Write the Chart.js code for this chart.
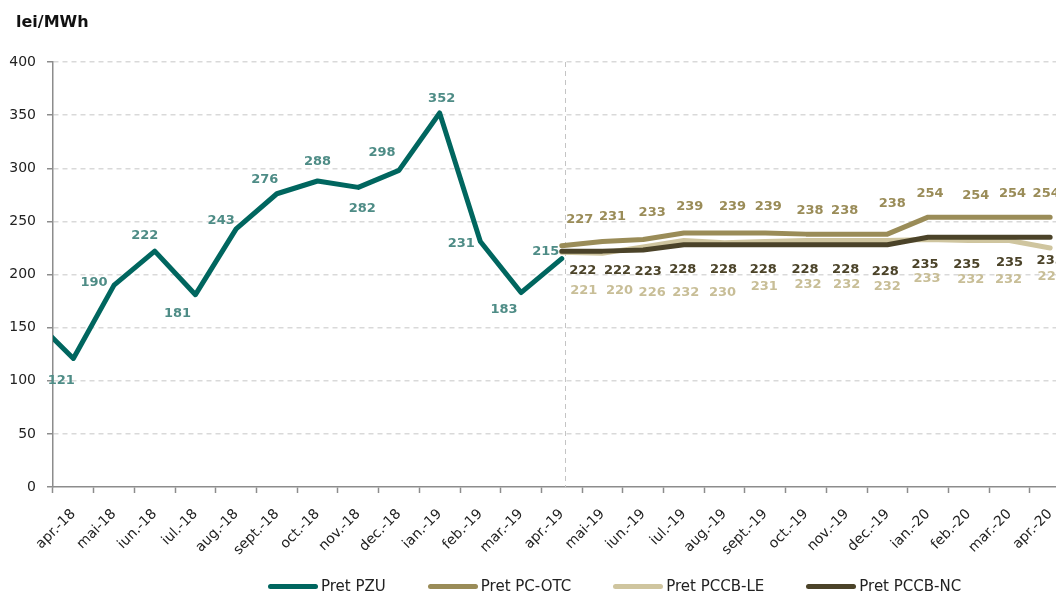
<!DOCTYPE html>
<html>
<head>
<meta charset="utf-8">
<script src="https://cdn.jsdelivr.net/npm/chart.js@4.4.1/dist/chart.umd.min.js"></script>
<style>
  html, body { margin: 0; padding: 0; background: #fff; overflow: hidden; width: 1056px; height: 596px; }
  #wrap { position: absolute; left: 0; top: 0; width: 1085px; height: 596px; }
  #legend { position: absolute; left: 268px; top: 577px; height: 18px; display: flex; align-items: center;
            font-family: 'DejaVu Sans', sans-serif; font-size: 15px; color: #222; white-space: nowrap; }
  #legend .item { display: flex; align-items: center; margin-right: 42px; }
  #legend .sw { display: inline-block; width: 50px; height: 5px; border-radius: 3px; margin-right: 3px; }
</style>
</head>
<body>
<div id="wrap"><canvas id="c" width="1085" height="596"></canvas></div>
<div id="legend"></div>
<script>
// ---- data ----
const months = ['apr.-18','mai-18','iun.-18','iul.-18','aug.-18','sept.-18','oct.-18','nov.-18','dec.-18',
  'ian.-19','feb.-19','mar.-19','apr.-19','mai-19','iun.-19','iul.-19','aug.-19','sept.-19','oct.-19',
  'nov.-19','dec.-19','ian.-20','feb.-20','mar.-20','apr.-20'];
const pzuLead = 159; // mar.-18 value, only the segment entering the plot is visible
const pzu   = [121, 190, 222, 181, 243, 276, 288, 282, 298, 352, 231, 183, 215]; // apr.-18 .. apr.-19
const pcOtc = [227, 231, 233, 239, 239, 239, 238, 238, 238, 254, 254, 254, 254];  // apr.-19 .. apr.-20
const pccbLe = [221, 220, 226, 232, 230, 231, 232, 232, 232, 233, 232, 232, 225];
const pccbNc = [222, 222, 223, 228, 228, 228, 228, 228, 228, 235, 235, 235, 235];
const seriesNames = ['Pret PZU', 'Pret PC-OTC', 'Pret PCCB-LE', 'Pret PCCB-NC'];
const yTicks = [0, 50, 100, 150, 200, 250, 300, 350, 400];
const forecastStart = months.indexOf('apr.-19');

// ---- styling ----
const colors = ['#00665f', '#9a8c58', '#cfc59f', '#4b4329'];
const labelColors = ['#4e8c86', '#9a8c58', '#c8be97', '#4b4329'];
// label placement relative to each point (pixels)
const labelOffsets = [
  [[-12,22],[-20,-3],[-10,-16],[-18,19],[-15,-8],[-12,-14],[0,-19],[4,21],[-17,-18],[2,-14],[-19,2],[-17,17],[-16,-7]],
  [[18,-26],[10,-25],[9,-27],[6,-26],[8,-26],[3,-26],[4,-24],[-2,-24],[5,-31],[2,-24],[7,-22],[3,-24],[-4,-24]],
  [[22,38],[17,37],[9,46],[2,52],[-2,50],[-1,45],[2,44],[0,44],[0,46],[-1,39],[2,39],[-1,39],[1,29]],
  [[21,19],[15,19],[5,22],[-1,25],[-1,25],[-2,25],[-1,25],[-1,25],[-2,27],[-3,27],[-2,27],[0,25],[0,23]]
];

const FONT = "'DejaVu Sans', sans-serif";

const pzuData = [{x: -1, y: pzuLead}].concat(pzu.map((v, i) => ({x: i, y: v})));
const fc = arr => arr.map((v, i) => ({x: forecastStart + i, y: v}));

const valueLabels = {
  id: 'valueLabels',
  afterDatasetsDraw(chart) {
    const ctx = chart.ctx;
    chart.data.datasets.forEach((ds, di) => {
      const meta = chart.getDatasetMeta(di);
      const offs = labelOffsets[di];
      const skip = ds.data.length - offs.length;
      ctx.save();
      ctx.font = 'bold 13px ' + FONT;
      ctx.fillStyle = labelColors[di];
      ctx.textAlign = 'center';
      ctx.textBaseline = 'middle';
      meta.data.forEach((pt, i) => {
        if (i < skip) return;
        const o = offs[i - skip];
        ctx.fillText(String(ds.data[i].y), pt.x + o[0], pt.y + o[1]);
      });
      ctx.restore();
    });
  }
};

const divider = {
  id: 'divider',
  beforeDatasetsDraw(chart) {
    const {ctx, chartArea, scales} = chart;
    const x = Math.round(scales.x.getPixelForValue(forecastStart + 0.08)) + 0.5;
    ctx.save();
    ctx.strokeStyle = '#c4c4c4';
    ctx.lineWidth = 1;
    ctx.setLineDash([5, 4]);
    ctx.beginPath();
    ctx.moveTo(x, chartArea.top);
    ctx.lineTo(x, chartArea.bottom);
    ctx.stroke();
    ctx.restore();
  }
};

const unitTitle = {
  id: 'unitTitle',
  afterDraw(chart) {
    const ctx = chart.ctx;
    ctx.save();
    ctx.font = 'bold 16px ' + FONT;
    ctx.fillStyle = '#111';
    ctx.textAlign = 'left';
    ctx.textBaseline = 'alphabetic';
    ctx.fillText('lei/MWh', 16, 27);
    ctx.restore();
  }
};

const mk = (i, data, order) => ({
  label: seriesNames[i], data, borderColor: colors[i], backgroundColor: colors[i],
  borderWidth: 5, pointRadius: 0, tension: 0, order,
  borderJoinStyle: 'round', borderCapStyle: 'round',
  clip: {left: 0, top: false, right: false, bottom: false}
});

new Chart(document.getElementById('c'), {
  type: 'line',
  data: {
    datasets: [
      mk(0, pzuData, 3),
      mk(1, fc(pcOtc), 2),
      mk(2, fc(pccbLe), 1),
      mk(3, fc(pccbNc), 0)
    ]
  },
  options: {
    responsive: false,
    animation: false,
    devicePixelRatio: 1,
    layout: { padding: { top: 62, right: 14.5, bottom: 0, left: 0 } },
    plugins: { legend: { display: false }, tooltip: { enabled: false }, title: { display: false } },
    scales: {
      x: {
        type: 'linear', min: -0.5, max: months.length - 0.5,
        afterBuildTicks: s => { s.ticks = months.map((_, i) => ({value: i})); },
        afterFit: s => { s.height = 109; },
        grid: { drawOnChartArea: false, drawTicks: true, tickLength: 6, offset: true,
                color: '#8c8c8c', tickColor: '#8c8c8c', tickWidth: 1.5, tickBorderDash: [] },
        border: { display: true, color: '#8c8c8c', width: 1.5 },
        ticks: { autoSkip: false, maxRotation: 45, minRotation: 45, padding: 13,
                 color: '#222', font: { family: FONT, size: 14 },
                 callback: (v, i) => months[i] }
      },
      y: {
        min: 0, max: 400,
        afterBuildTicks: s => { s.ticks = yTicks.map(v => ({value: v})); },
        afterFit: s => { s.width = 53; },
        grid: { color: c => (c.tick && c.tick.value === 0) ? 'rgba(0,0,0,0)' : '#d9d9d9',
                lineWidth: 1.5, tickLength: 6, tickColor: '#8c8c8c', tickWidth: 1.5, tickBorderDash: [] },
        border: { display: true, color: '#8c8c8c', width: 1.5, dash: [5, 4] },
        ticks: { padding: 11, color: '#222', font: { family: FONT, size: 14 } }
      }
    }
  },
  plugins: [divider, valueLabels, unitTitle]
});

// legend (HTML), built from the series names and colours
const lg = document.getElementById('legend');
seriesNames.forEach((name, i) => {
  const it = document.createElement('div');
  it.className = 'item';
  const sw = document.createElement('span');
  sw.className = 'sw';
  sw.style.background = colors[i];
  const tx = document.createElement('span');
  tx.textContent = name;
  it.appendChild(sw); it.appendChild(tx);
  lg.appendChild(it);
});
</script>
</body>
</html>
